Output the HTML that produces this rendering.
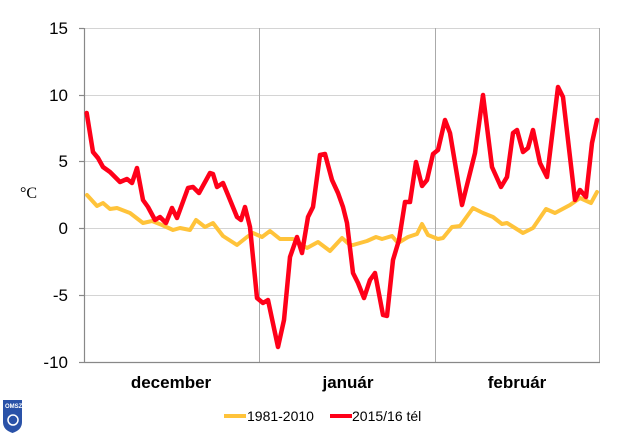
<!DOCTYPE html>
<html><head><meta charset="utf-8"><style>
body{margin:0;background:#fff;}
svg{display:block;font-family:"Liberation Sans",sans-serif;}
</style></head><body>
<svg width="640" height="435" viewBox="0 0 640 435">
<rect width="640" height="435" fill="#fff"/>
<g stroke="#d4d4d4" stroke-width="1">
<line x1="84" y1="28.5" x2="599" y2="28.5"/>
<line x1="84" y1="95.5" x2="599" y2="95.5"/>
<line x1="84" y1="161.5" x2="599" y2="161.5"/>
<line x1="84" y1="228.5" x2="599" y2="228.5"/>
<line x1="84" y1="295.5" x2="599" y2="295.5"/>
</g>
<g stroke="#aaa" stroke-width="1">
<line x1="259.5" y1="28" x2="259.5" y2="362"/>
<line x1="435.5" y1="28" x2="435.5" y2="362"/>
<line x1="599.5" y1="28" x2="599.5" y2="362"/>
</g>
<g stroke="#888" stroke-width="1.2">
<line x1="84.5" y1="28" x2="84.5" y2="362"/>
<line x1="84" y1="362.5" x2="600" y2="362.5"/>
<line x1="79" y1="28.5" x2="84" y2="28.5"/><line x1="79" y1="95.5" x2="84" y2="95.5"/>
<line x1="79" y1="161.5" x2="84" y2="161.5"/><line x1="79" y1="228.5" x2="84" y2="228.5"/>
<line x1="79" y1="295.5" x2="84" y2="295.5"/><line x1="79" y1="362.5" x2="84" y2="362.5"/>
</g>
<g font-size="17" text-anchor="end" fill="#000">
<text x="68" y="34">15</text><text x="68" y="101">10</text><text x="68" y="167">5</text>
<text x="68" y="234">0</text><text x="68" y="301">-5</text><text x="68" y="368">-10</text>
</g>
<text x="20" y="198" font-family="Liberation Serif,serif" font-size="16">°C</text>
<g font-size="17" font-weight="bold" text-anchor="middle">
<text x="171" y="388">december</text><text x="348" y="388">január</text><text x="517" y="388">február</text>
</g>
<polyline fill="none" stroke="#ffc33a" stroke-width="4" stroke-linejoin="round" stroke-linecap="round" points="87,195 97,206 103,203 110,209 117,208 130,213 143,223 152,221 162,225 173,230 180,228 190,230 196,220 205,227 213,223 223,236 237,245 247,237 253,233 262,237 270,231 280,239 293,239 307,248 318,242 330,251 342,238 350,245 353,245 367,241 376,237 382,239 392,236 398,243 408,237 417,234 422,224 428,235 438,239 443,238 452,227 460,226 473,208 483,213 493,217 502,224 507,223 523,233 533,228 546,209 555,213 570,205 580,198 591,203 597,192"/>
<polyline fill="none" stroke="#ff0019" stroke-width="4.5" stroke-linejoin="round" stroke-linecap="round" points="86.7,113 93,152 98,158 103,167 110,172 120,182 127,179 132,183 137,168 143,200 148,207 155,220 160,217 166,223 172,208 177,218 188,188 193,187 199,193 210,173 213,174 217,187 223,183 228,195 237,217 241,220 245,207 250,227 257,298 263,303 268,300 278,347 284,320 290,257 297,237 302,253 308,217 313,207 320,155 325,154 332,180 338,193 343,207 347,223 353,273 358,283 364,298 370,280 375,273 383,315 387,316 393,260 399,240 405,202 410,202 416,162 422,186 427,180 433,154 438,150 445,120 450,133 462,205 475,153 483,95 492,167 501,187 507,177 513,133 517,130 523,152 528,148 533,130 540,163 547,177 558,87 563,97 575,200 580,190 586,197 592,143 597,120"/>
<line x1="224" y1="416" x2="246" y2="416" stroke="#ffc33a" stroke-width="4"/>
<text x="247" y="421" font-size="14">1981-2010</text>
<line x1="330" y1="416" x2="352" y2="416" stroke="#ff0019" stroke-width="4"/>
<text x="352" y="421" font-size="14">2015/16 tél</text>
<path d="M3,400 H22 V422 Q22,430 12.5,433 Q3,430 3,422 Z" fill="#2a52a8"/>
<text x="5" y="408" font-size="6" fill="#fff" font-weight="bold">OMSZ</text>
<circle cx="13" cy="420" r="5" fill="none" stroke="#fff" stroke-width="1.5"/>
</svg>
</body></html>
